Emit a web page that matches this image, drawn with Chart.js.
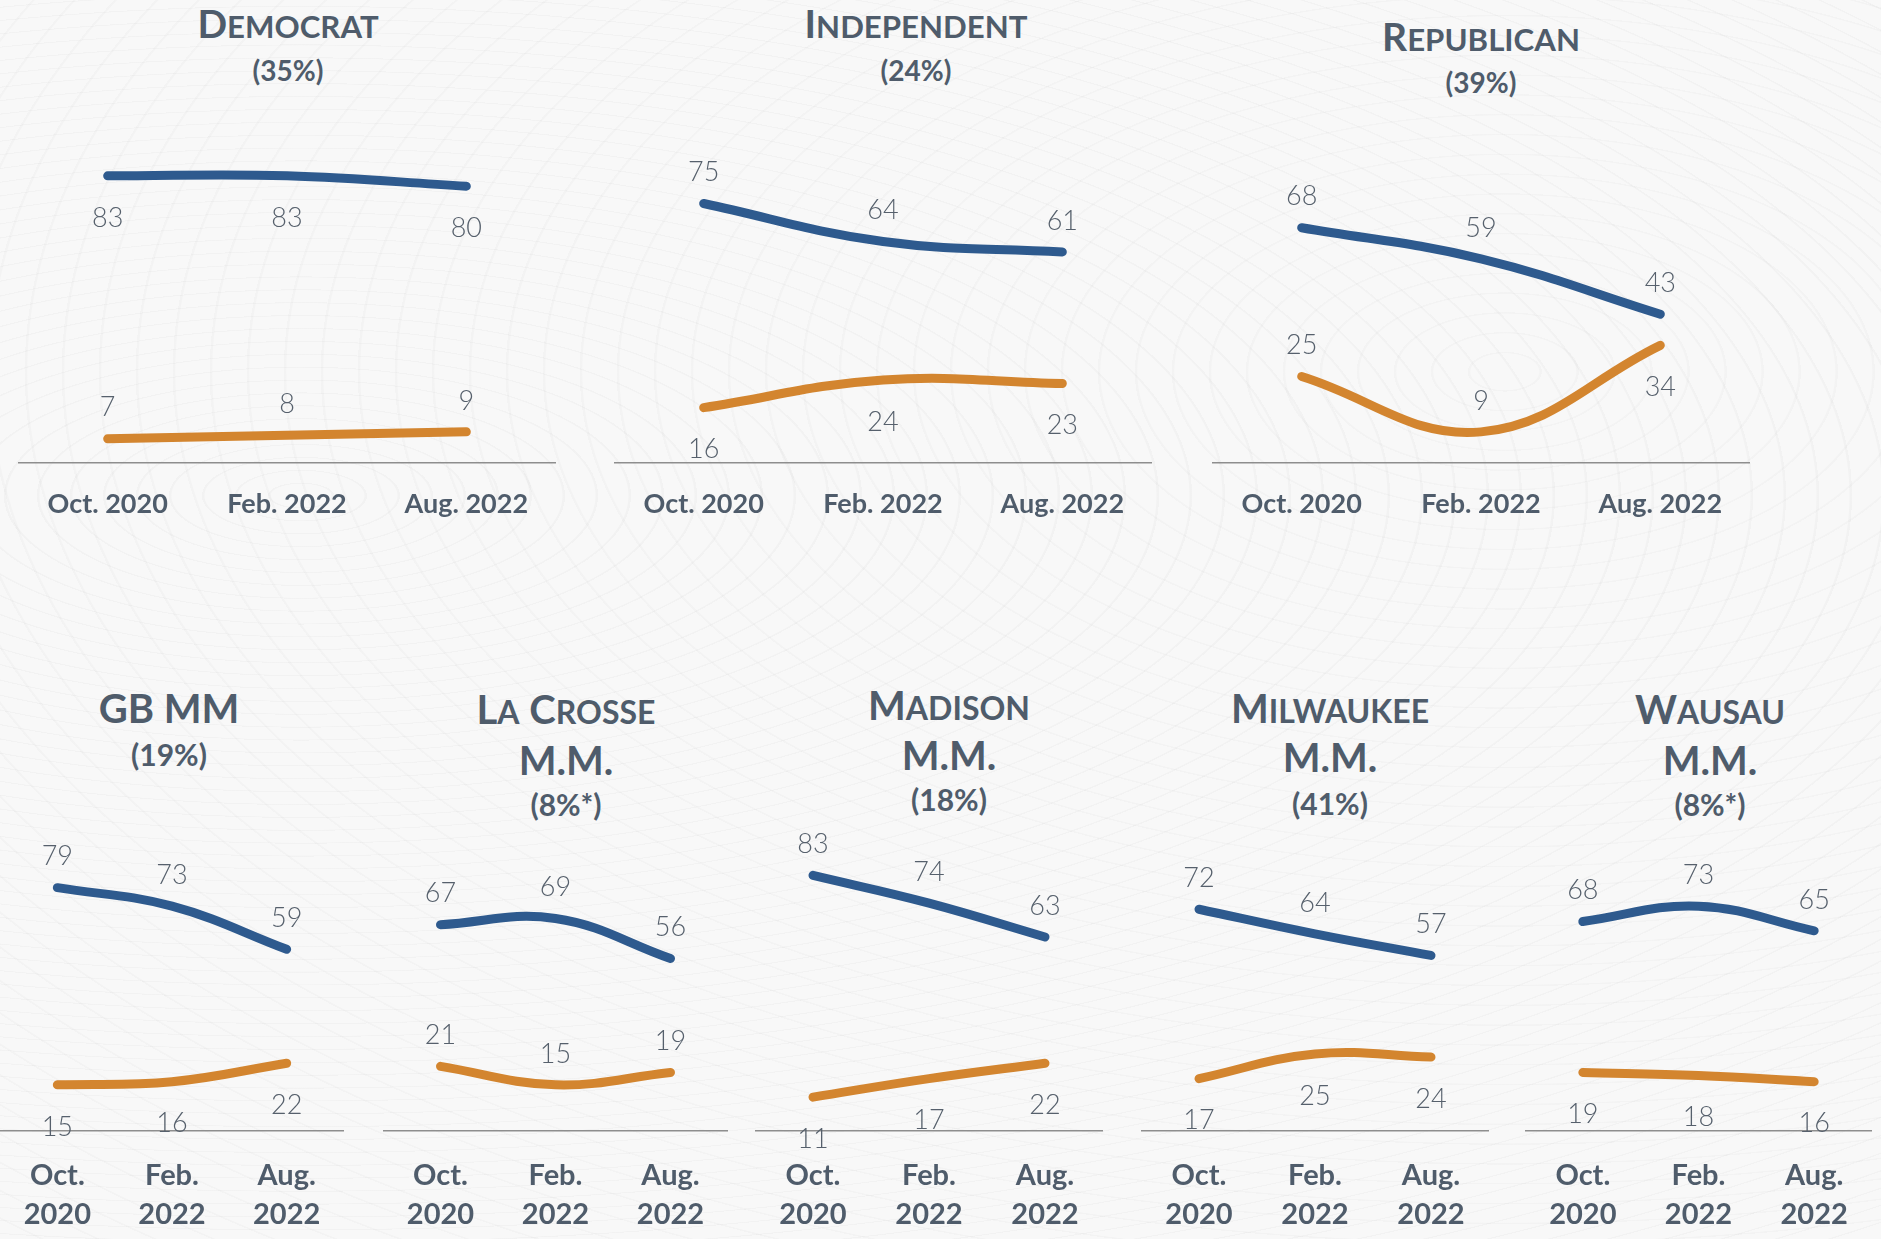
<!DOCTYPE html>
<html>
<head>
<meta charset="utf-8">
<title>Trend by party and media market</title>
<script src="https://cdn.jsdelivr.net/npm/chart.js@4.4.1/dist/chart.umd.min.js"></script>
<style>
  body {
    margin: 0;
    width: 1881px;
    height: 1239px;
    position: relative;
    overflow: hidden;
    font-family: Lato, "Open Sans", sans-serif;
    background-color: #f8f8f8;
    background-image:
      repeating-radial-gradient(ellipse 640px 250px at 16% 40%, rgba(0,0,0,0) 0 30px, rgba(0,0,0,0.022) 31px 33px),
      repeating-radial-gradient(ellipse 560px 300px at 80% 30%, rgba(0,0,0,0) 0 34px, rgba(0,0,0,0.02) 35px 37px);
  }
  canvas { position: absolute; }
  .line {
    position: absolute;
    transform: translateX(-50%);
    white-space: nowrap;
    color: #4f5c6b;
    font-weight: 700;
    line-height: 1;
  }
  .sc { font-size: 0.8em; }
</style>
</head>
<body>
<script>
// x-axis labels
const topTicks = ['Oct. 2020', 'Feb. 2022', 'Aug. 2022'];
const bottomTicks = [['Oct.', '2020'], ['Feb.', '2022'], ['Aug.', '2022']];

// blue / orange series for each group
const democratBlue = [83, 83, 80];
const democratOrange = [7, 8, 9];
const independentBlue = [75, 64, 61];
const independentOrange = [16, 24, 23];
const republicanBlue = [68, 59, 43];
const republicanOrange = [25, 9, 34];
const gbBlue = [79, 73, 59];
const gbOrange = [15, 16, 22];
const laCrosseBlue = [67, 69, 56];
const laCrosseOrange = [21, 15, 19];
const madisonBlue = [83, 74, 63];
const madisonOrange = [11, 17, 22];
const milwaukeeBlue = [72, 64, 57];
const milwaukeeOrange = [17, 25, 24];
const wausauBlue = [68, 73, 65];
const wausauOrange = [19, 18, 16];

// panel headings
const titles = [
  ['Democrat', '(35%)'],
  ['Independent', '(24%)'],
  ['Republican', '(39%)'],
  ['GB MM', '(19%)'],
  ['La Crosse', 'M.M.', '(8%*)'],
  ['Madison', 'M.M.', '(18%)'],
  ['Milwaukee', 'M.M.', '(41%)'],
  ['Wausau', 'M.M.', '(8%*)']
];

const BLUE = '#2e5a8e';
const ORANGE = '#d3852f';
const INK = '#4f5c6b';
const FONT = 'Lato, "Open Sans", sans-serif';

// layout: canvas box, title centre and the y of each title line
const panels = [
  { blue: democratBlue, orange: democratOrange, ticks: topTicks, blueSide: [1, 1, 1], orangeSide: [-1, -1, -1],
    left: 18, width: 538, row: 'top', cx: 288, ys: [25, 71] },
  { blue: independentBlue, orange: independentOrange, ticks: topTicks, blueSide: [-1, -1, -1], orangeSide: [1, 1, 1],
    left: 614, width: 538, row: 'top', cx: 916, ys: [25, 71] },
  { blue: republicanBlue, orange: republicanOrange, ticks: topTicks, blueSide: [-1, -1, -1], orangeSide: [-1, -1, 1],
    left: 1212, width: 538, row: 'top', cx: 1481, ys: [38, 83] },
  { blue: gbBlue, orange: gbOrange, ticks: bottomTicks, blueSide: [-1, -1, -1], orangeSide: [1, 1, 1],
    left: 0, width: 344, row: 'bottom', cx: 169, ys: [709, 755] },
  { blue: laCrosseBlue, orange: laCrosseOrange, ticks: bottomTicks, blueSide: [-1, -1, -1], orangeSide: [-1, -1, -1],
    left: 383, width: 345, row: 'bottom', cx: 566, ys: [710, 761, 805] },
  { blue: madisonBlue, orange: madisonOrange, ticks: bottomTicks, blueSide: [-1, -1, -1], orangeSide: [1, 1, 1],
    left: 755, width: 348, row: 'bottom', cx: 949, ys: [706, 756, 800] },
  { blue: milwaukeeBlue, orange: milwaukeeOrange, ticks: bottomTicks, blueSide: [-1, -1, -1], orangeSide: [1, 1, 1],
    left: 1141, width: 348, row: 'bottom', cx: 1330, ys: [709, 758, 804] },
  { blue: wausauBlue, orange: wausauOrange, ticks: bottomTicks, blueSide: [-1, -1, -1], orangeSide: [1, 1, 1],
    left: 1525, width: 347, row: 'bottom', cx: 1710, ys: [710, 761, 805] }
];

const rows = {
  top: { top: 117, plot: 346, axis: 60, nameSize: 39, shareSize: 28, tickSize: 27, tickLine: 1.2 },
  bottom: { top: 823, plot: 308, axis: 108, nameSize: 40, shareSize: 30, tickSize: 29, tickLine: 1.345 }
};

// writes the value next to every point, above (-1) or below (+1)
const valueLabels = {
  id: 'valueLabels',
  afterDatasetsDraw(chart) {
    const ctx = chart.ctx;
    ctx.save();
    ctx.font = '300 27px ' + FONT;
    ctx.fillStyle = '#56606c';
    ctx.textAlign = 'center';
    ctx.textBaseline = 'middle';
    chart.data.datasets.forEach((ds, i) => {
      chart.getDatasetMeta(i).data.forEach((pt, j) => {
        const dy = ds.side[j] < 0 ? -31 : 42;
        ctx.fillText(ds.data[j], pt.x, pt.y + dy);
      });
    });
    ctx.restore();
  }
};

// small caps by hand: capitals full size, the rest upper-cased and smaller
function smallCaps(el, txt) {
  for (const ch of txt) {
    if (ch === ch.toLowerCase() && ch !== ch.toUpperCase()) {
      const s = document.createElement('span');
      s.className = 'sc';
      s.textContent = ch.toUpperCase();
      el.appendChild(s);
    } else {
      el.appendChild(document.createTextNode(ch));
    }
  }
}

panels.forEach((p, k) => {
  const r = rows[p.row];

  titles[k].forEach((txt, n) => {
    const div = document.createElement('div');
    const isShare = txt.startsWith('(');
    const size = isShare ? r.shareSize : r.nameSize;
    div.className = 'line';
    div.style.fontSize = size + 'px';
    div.style.left = p.cx + 'px';
    div.style.top = (p.ys[n] - 0.53 * size) + 'px';
    if (isShare) div.textContent = txt;
    else smallCaps(div, txt);
    document.body.appendChild(div);
  });

  const canvas = document.createElement('canvas');
  canvas.width = p.width;
  canvas.height = r.plot + r.axis;
  canvas.style.left = p.left + 'px';
  canvas.style.top = r.top + 'px';
  document.body.appendChild(canvas);

  new Chart(canvas, {
    type: 'line',
    data: {
      labels: p.ticks,
      datasets: [
        { data: p.blue, side: p.blueSide, borderColor: BLUE },
        { data: p.orange, side: p.orangeSide, borderColor: ORANGE }
      ].map(ds => Object.assign(ds, {
        borderWidth: 9,
        borderCapStyle: 'round',
        borderJoinStyle: 'round',
        pointRadius: 0,
        tension: 0.4,
        fill: false
      }))
    },
    options: {
      responsive: false,
      animation: false,
      layout: { padding: 0 },
      plugins: { legend: { display: false }, tooltip: { enabled: false } },
      scales: {
        x: {
          offset: true,
          grid: { display: false },
          border: { display: true, color: '#8e8e8e', width: 1.5 },
          ticks: {
            padding: 17,
            color: INK,
            maxRotation: 0,
            autoSkip: false,
            font: { family: FONT, size: r.tickSize, weight: '700', lineHeight: r.tickLine }
          },
          afterFit(scale) { scale.height = r.axis; }
        },
        y: { display: false, min: 0, max: 100 }
      }
    },
    plugins: [valueLabels]
  });
});
</script>
</body>
</html>
